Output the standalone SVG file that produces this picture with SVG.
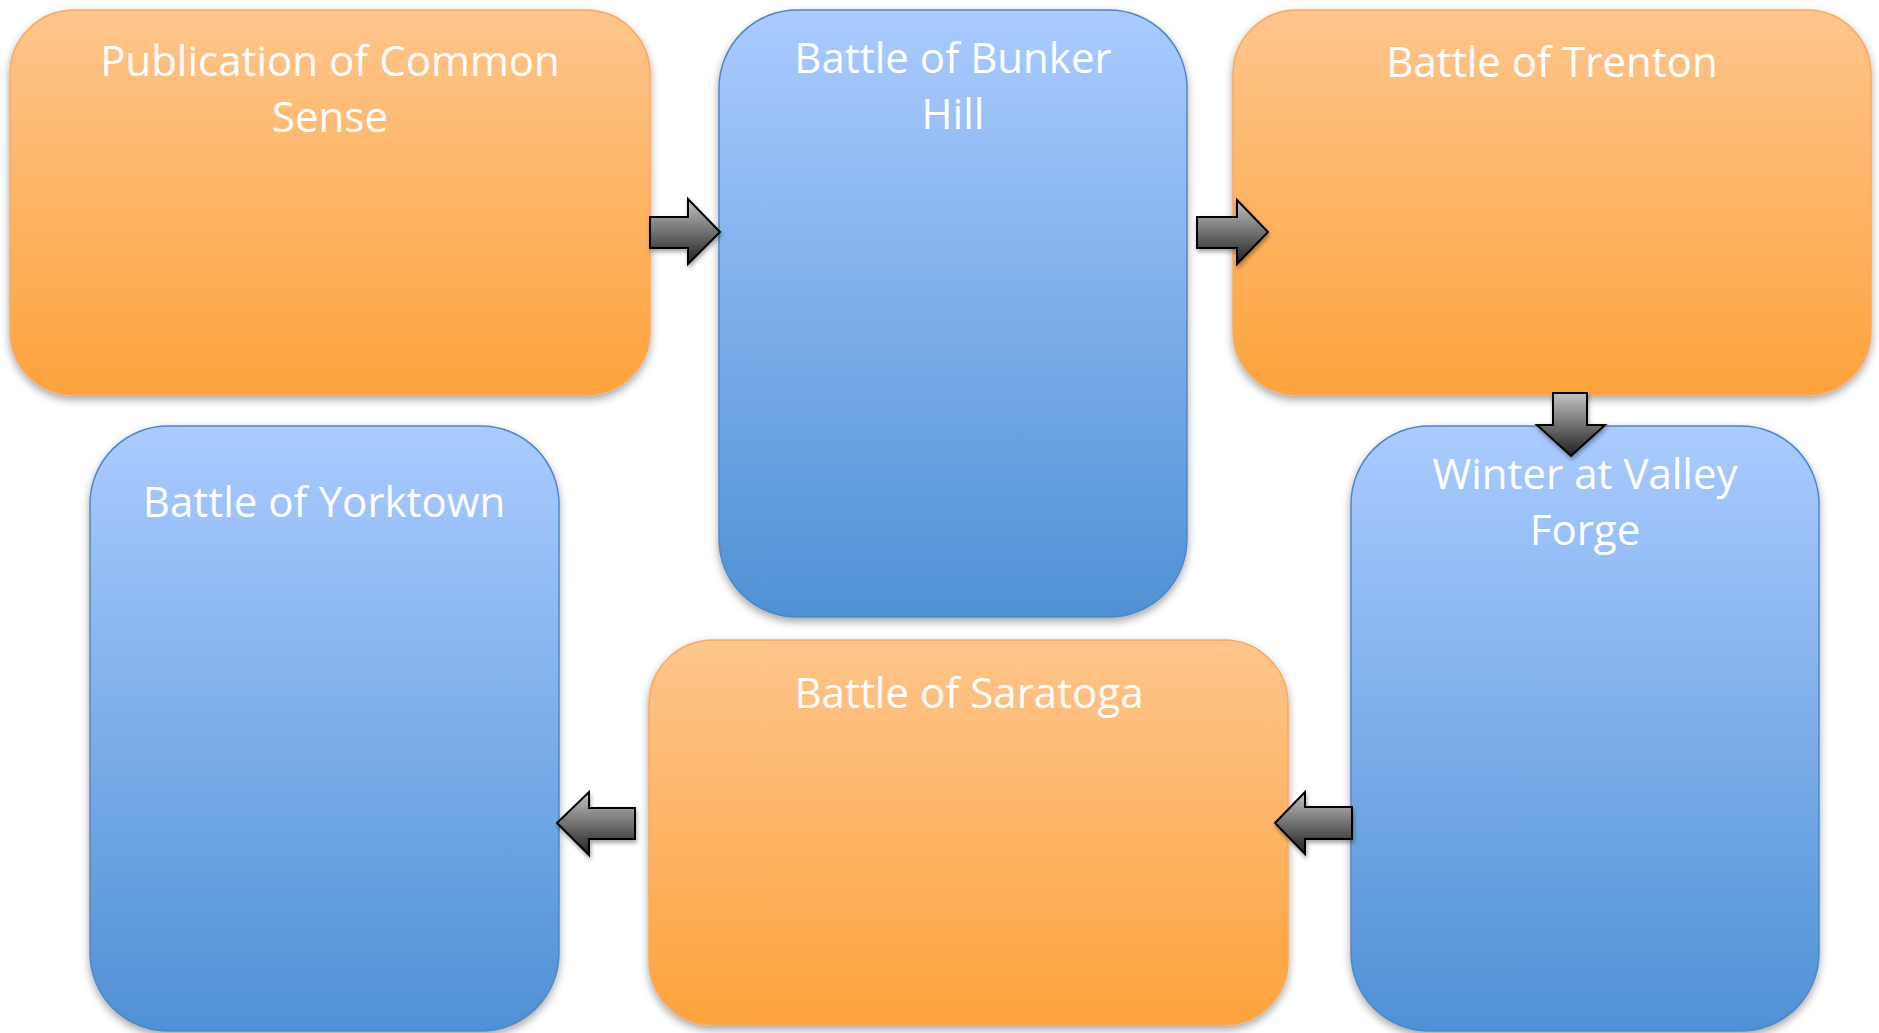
<svg xmlns="http://www.w3.org/2000/svg" width="1879" height="1033" viewBox="0 0 1879 1033">
  <defs>
    <linearGradient id="gOrange" x1="0" y1="0" x2="0" y2="1">
      <stop offset="0" stop-color="#fec58c"/>
      <stop offset="1" stop-color="#fda33c"/>
    </linearGradient>
    <linearGradient id="gBlue" x1="0" y1="0" x2="0" y2="1">
      <stop offset="0" stop-color="#aacbff"/>
      <stop offset="1" stop-color="#4f91d5"/>
    </linearGradient>
    <linearGradient id="gArrow" x1="0" y1="0" x2="0" y2="1">
      <stop offset="0" stop-color="#c4c4c4"/>
      <stop offset="1" stop-color="#1f1f1f"/>
    </linearGradient>
    <filter id="shadow" x="-10%" y="-10%" width="120%" height="125%">
      <feDropShadow dx="0" dy="4" stdDeviation="4" flood-color="#000" flood-opacity="0.35"/>
    </filter>
    <filter id="ashadow" x="-30%" y="-30%" width="160%" height="160%">
      <feDropShadow dx="1" dy="3" stdDeviation="2" flood-color="#000" flood-opacity="0.35"/>
    </filter>
  </defs>
  <style>
    .orange { fill: url(#gOrange); stroke: #f9a85e; stroke-width: 1.5; filter: url(#shadow); }
    .blue { fill: url(#gBlue); stroke: #4f86c6; stroke-width: 1.5; filter: url(#shadow); }
    .label { font-family: "Open Sans", "Liberation Sans", sans-serif; font-size: 42px; fill: #ffffff; text-anchor: middle; }
    .arrow { fill: url(#gArrow); stroke: #000000; stroke-width: 2; stroke-linejoin: miter; filter: url(#ashadow); }
  </style>
  <rect width="1879" height="1033" fill="#ffffff"/>

  <g id="node-common-sense">
    <rect class="orange" x="10" y="10" width="640" height="385" rx="64" ry="64"/>
    <text class="label" x="330" y="76">Publication of Common</text>
    <text class="label" x="330" y="132">Sense</text>
  </g>

  <g id="node-bunker-hill">
    <rect class="blue" x="719" y="10" width="468" height="607" rx="78" ry="78"/>
    <text class="label" x="953" y="73">Battle of Bunker</text>
    <text class="label" x="953" y="129">Hill</text>
  </g>

  <g id="node-trenton">
    <rect class="orange" x="1233" y="10" width="638" height="385" rx="64" ry="64"/>
    <text class="label" x="1552" y="77">Battle of Trenton</text>
  </g>

  <g id="node-valley-forge">
    <rect class="blue" x="1351" y="426" width="468" height="605" rx="78" ry="78"/>
    <text class="label" x="1585" y="489">Winter at Valley</text>
    <text class="label" x="1585" y="545">Forge</text>
  </g>

  <g id="node-saratoga">
    <rect class="orange" x="649" y="640" width="639" height="385" rx="64" ry="64"/>
    <text class="label" x="969" y="708">Battle of Saratoga</text>
  </g>

  <g id="node-yorktown">
    <rect class="blue" x="90" y="426" width="469" height="605" rx="78" ry="78"/>
    <text class="label" x="324" y="517">Battle of Yorktown</text>
  </g>

  <g id="connectors">
    <path class="arrow" d="M650,217 L688,217 L688,199 L720,232 L688,264 L688,248 L650,248 Z"/>
    <path class="arrow" d="M1197,217 L1237,217 L1237,200 L1268,232 L1237,264 L1237,248 L1197,248 Z"/>
    <path class="arrow" d="M1553,393 L1587,393 L1587,425 L1605,425 L1571,456 L1537,425 L1553,425 Z"/>
    <path class="arrow" d="M1352,807 L1305,807 L1305,792 L1275,823 L1305,854 L1305,839 L1352,839 Z"/>
    <path class="arrow" d="M635,808 L589,808 L589,792 L557,823 L589,855 L589,839 L635,839 Z"/>
  </g>
</svg>
